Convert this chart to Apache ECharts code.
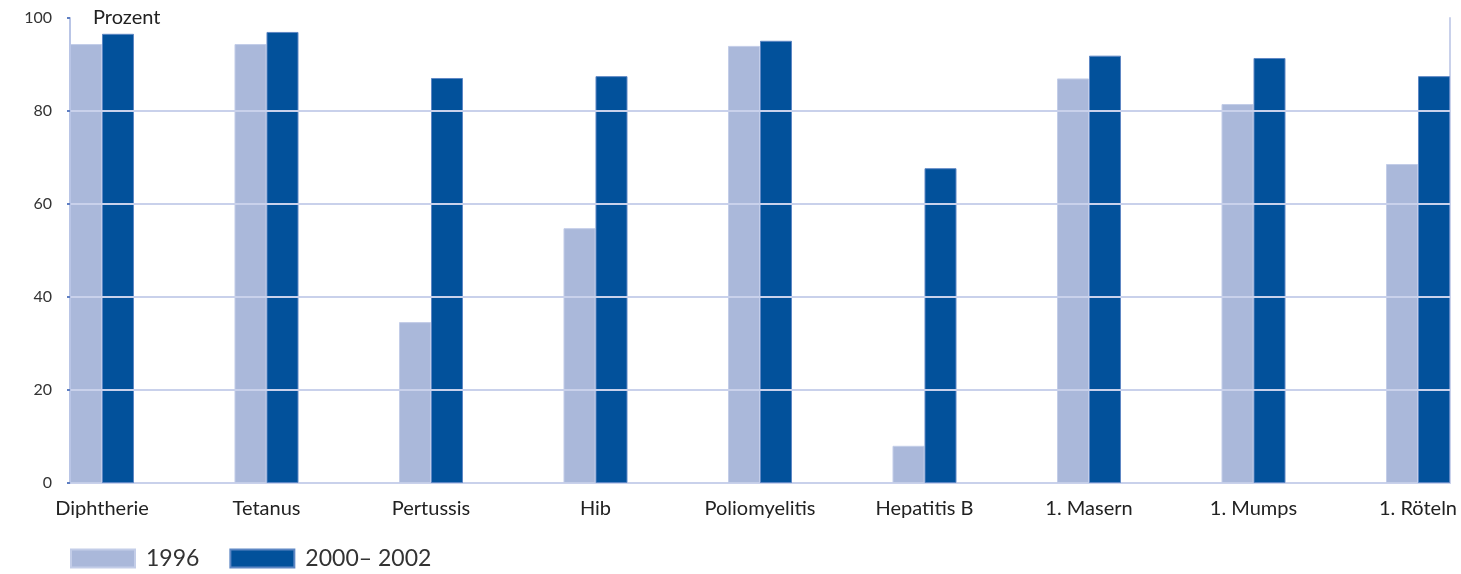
<!DOCTYPE html>
<html>
<head>
<meta charset="utf-8">
<title>Impfquoten</title>
<script src="https://cdn.jsdelivr.net/npm/echarts@6/dist/echarts.min.js"></script>
<style>
  html, body { margin: 0; padding: 0; background: #ffffff; }
  #chart { width: 1461px; height: 574px; }
</style>
</head>
<body>
<div id="chart"></div>
<script>
// Impfquoten (Prozent) je Impfung
const categories = ['Diphtherie', 'Tetanus', 'Pertussis', 'Hib', 'Poliomyelitis', 'Hepatitis B', '1. Masern', '1. Mumps', '1. Röteln'];
const values1996 = [94.4, 94.4, 34.6, 54.8, 94.0, 8.0, 87.0, 81.5, 68.6];
const values2000_2002 = [96.6, 97.0, 87.1, 87.5, 95.1, 67.7, 91.9, 91.4, 87.5];
const seriesNames = ['1996', '2000– 2002'];
const yTicks = [0, 20, 40, 60, 80, 100];

const FONT = 'Lato, "Open Sans", sans-serif';
const LIGHT = '#aab8da';
const DARK = '#02519b';
const GRID_COLOR = '#c9d1eb';

const toPairs = vals => vals.map((v, i) => [i, v]);

const chart = echarts.init(document.getElementById('chart'), null, { renderer: 'canvas' });

chart.setOption({
  animation: false,
  backgroundColor: '#ffffff',
  grid: { left: 70, right: 11, top: 18, bottom: 91 },
  legend: {
    left: 70,
    top: 547,
    padding: 0,
    itemWidth: 64,
    itemHeight: 18,
    itemGap: 30,
    icon: 'rect',
    data: seriesNames,
    textStyle: { fontFamily: FONT, fontSize: 23, color: '#333', padding: [0, 0, 0, 6] }
  },
  xAxis: {
    type: 'value',
    min: -0.1945,
    max: categories.length - 1 + 0.1945,
    splitLine: { show: false },
    axisLine: { show: true, onZero: false, lineStyle: { color: GRID_COLOR, width: 2 } },
    axisTick: { show: false },
    axisLabel: {
      customValues: categories.map((_, i) => i),
      formatter: v => categories[Math.round(v)] ?? '',
      margin: 16,
      fontFamily: FONT,
      fontSize: 20,
      color: '#222'
    }
  },
  yAxis: [
    {
      type: 'value',
      min: yTicks[0],
      max: yTicks[yTicks.length - 1],
      interval: 20,
      z: 3,
      name: 'Prozent',
      nameLocation: 'end',
      nameGap: 0,
      nameTextStyle: {
        fontFamily: FONT, fontSize: 20, color: '#222',
        align: 'left', verticalAlign: 'middle', padding: [0, 0, 2, 23]
      },
      axisLine: { show: true, onZero: false, lineStyle: { color: '#b9c5e6', width: 2 } },
      axisTick: { show: true, length: 3, lineStyle: { color: '#5f7fc2', width: 2 } },
      axisLabel: { margin: 18, fontFamily: FONT, fontSize: 16, color: '#333' },
      splitLine: {
        show: true, showMinLine: false, showMaxLine: false,
        lineStyle: { color: GRID_COLOR, width: 2 }
      }
    },
    {
      type: 'value',
      position: 'right',
      min: yTicks[0],
      max: yTicks[yTicks.length - 1],
      interval: 20,
      axisLine: { show: true, onZero: false, lineStyle: { color: '#c9d1eb', width: 2 } },
      axisTick: { show: false },
      axisLabel: { show: false },
      splitLine: { show: false }
    }
  ],
  series: [
    {
      name: seriesNames[0],
      type: 'bar',
      barWidth: 32,
      barGap: '0%',
      itemStyle: { color: LIGHT, borderColor: '#c3cde8', borderWidth: 1 },
      data: toPairs(values1996)
    },
    {
      name: seriesNames[1],
      type: 'bar',
      barWidth: 32,
      barGap: '0%',
      itemStyle: { color: DARK, borderColor: '#5e87c4', borderWidth: 1 },
      data: toPairs(values2000_2002)
    }
  ]
});
</script>
</body>
</html>
